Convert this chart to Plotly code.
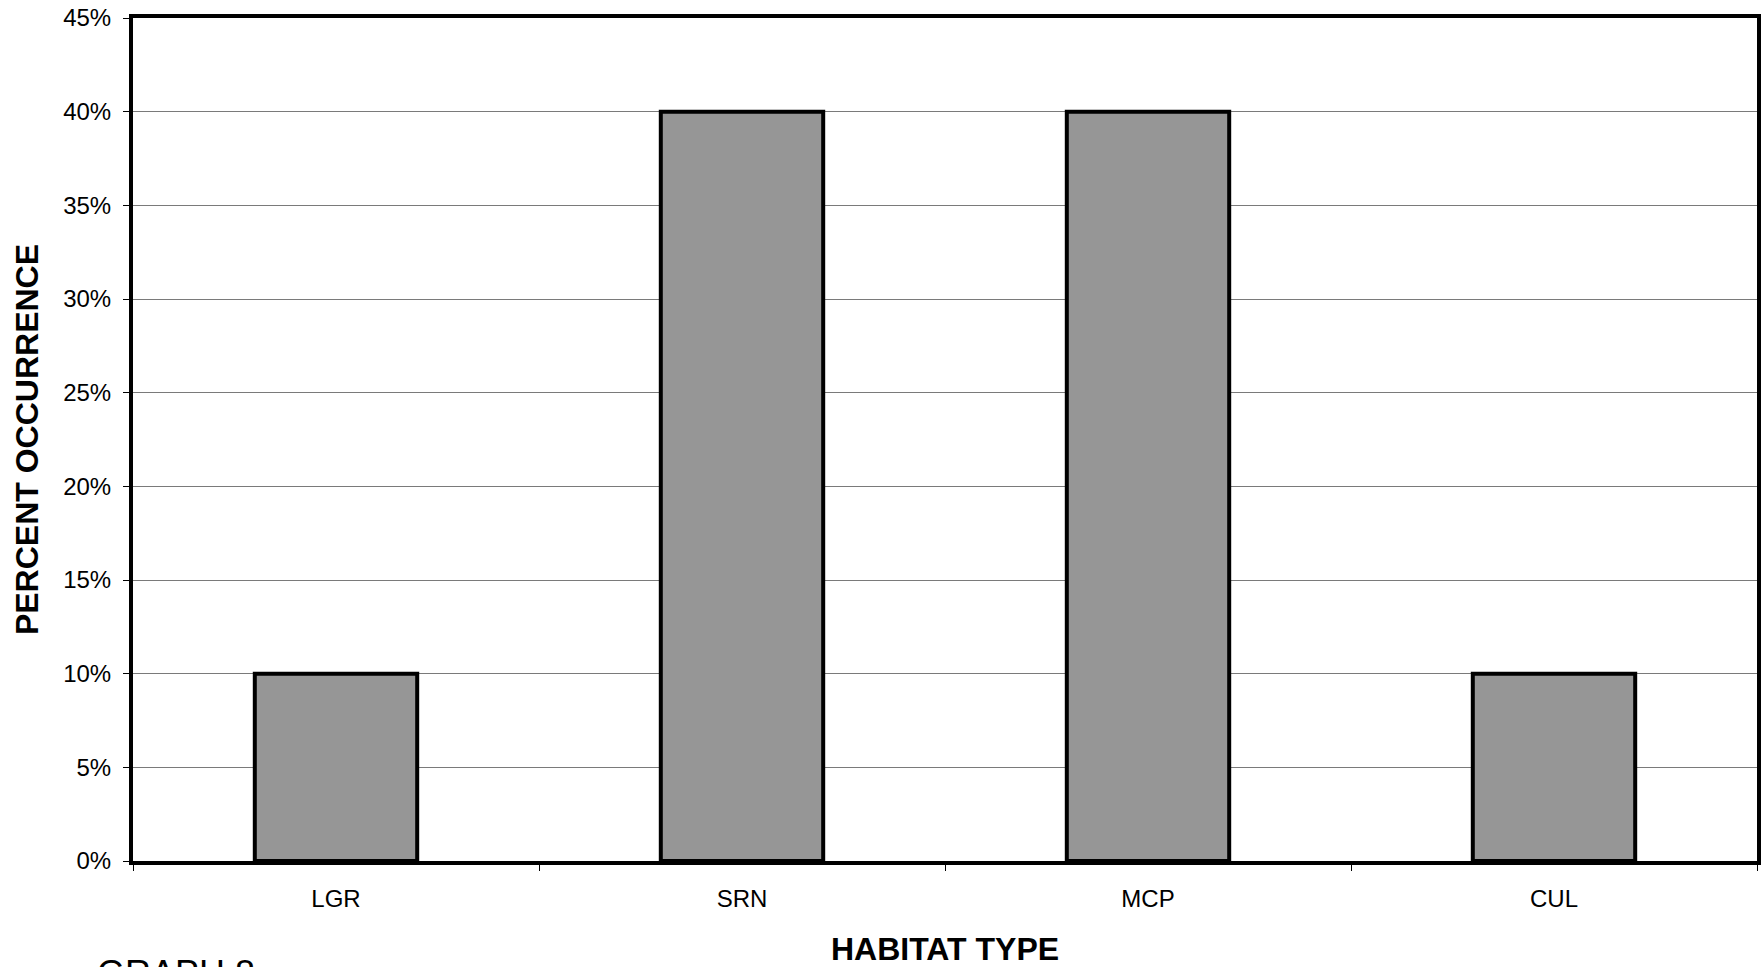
import plotly.graph_objects as go

categories = ["LGR", "SRN", "MCP", "CUL"]
values = [0.10, 0.40, 0.40, 0.10]
y_ticks = [0, 0.05, 0.10, 0.15, 0.20, 0.25, 0.30, 0.35, 0.40, 0.45]

W, H = 1762, 967
L, R, T, B = 133, 5, 18, 106
FONT = "Liberation Sans, Arial, sans-serif"

fig = go.Figure(go.Bar(
    x=categories, y=values,
    width=0.40,
    marker=dict(color="#969696", line=dict(color="#000000", width=4)),
    hoverinfo="skip",
))

plot_h = H - T - B

fig.update_layout(
    width=W, height=H,
    margin=dict(l=L, r=R, t=T, b=B, autoexpand=False),
    paper_bgcolor="white", plot_bgcolor="white",
    font=dict(family=FONT, size=24, color="black"),
    showlegend=False,
    xaxis=dict(
        type="category",
        showline=True, linecolor="black", linewidth=4, mirror=True,
        ticks="outside", tickson="boundaries", ticklen=6, tickwidth=1, tickcolor="black",
        showgrid=False,
        tickfont=dict(size=24, family=FONT),
        ticklabelstandoff=13,
        title=dict(text="<b>HABITAT TYPE</b>", font=dict(size=32, family=FONT), standoff=30),
    ),
    yaxis=dict(
        range=[0, 0.45],
        tickvals=y_ticks, tickformat=".0%",
        showline=True, linecolor="black", linewidth=4, mirror=True,
        ticks="outside", ticklen=6, tickwidth=1, tickcolor="black",
        showgrid=True, gridcolor="#7a7a7a", gridwidth=1,
        zeroline=False,
        tickfont=dict(size=24, family=FONT),
        ticklabelstandoff=7,
        title=dict(text="<b>PERCENT OCCURRENCE</b>", font=dict(size=32, family=FONT), standoff=16),
    ),
    annotations=[dict(
        text="GRAPH 8", xref="paper", yref="paper",
        x=(95 - L) / (W - L - R), y=(861 - 951) / plot_h,
        xanchor="left", yanchor="top", showarrow=False,
        font=dict(size=36, family=FONT, color="black"),
    )],
)

fig.write_html(
    "out.html",
    config={"displayModeBar": False},
    post_script="document.body.style.margin='0';document.body.style.overflow='hidden';",
)
